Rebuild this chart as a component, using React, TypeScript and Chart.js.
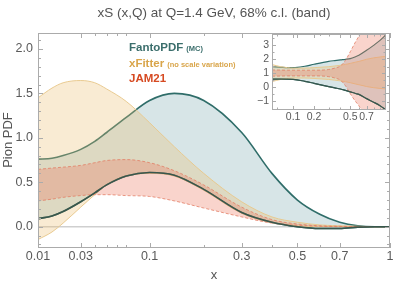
import React, { useEffect, useRef } from "react";
import { Chart, registerables } from "chart.js";
Chart.register(...registerables);

// ---------------- main panel data ----------------
const title = "xS (x,Q) at Q=1.4 GeV, 68% c.l. (band)";
const xValues = [0.01, 0.015, 0.02, 0.03, 0.04, 0.05, 0.07, 0.1, 0.14, 0.2, 0.3, 0.4, 0.5, 0.6, 0.7, 0.8, 0.9, 1.0];
const fantoUpper = [0.76, 0.77, 0.8, 0.87, 0.96, 1.06, 1.23, 1.42, 1.5, 1.42, 1.06, 0.6, 0.3, 0.14, 0.05, 0.01, 0, 0];
const fantoLower = [0.09, 0.12, 0.17, 0.28, 0.38, 0.47, 0.57, 0.61, 0.58, 0.42, 0.16, 0.05, 0.0, -0.02, -0.02, -0.005, 0, 0];
const xfitterUpper = [1.45, 1.56, 1.62, 1.645, 1.62, 1.55, 1.41, 1.17, 0.9, 0.6, 0.28, 0.11, 0.05, 0.02, 0.01, 0.005, 0, 0];
const xfitterLower = [-0.145, -0.06, 0.04, 0.22, 0.36, 0.47, 0.57, 0.6, 0.57, 0.41, 0.15, 0.045, 0.01, 0, 0, 0, 0, 0];
const jamUpper = [0.645, 0.66, 0.67, 0.69, 0.72, 0.745, 0.755, 0.72, 0.63, 0.47, 0.22, 0.08, 0.03, 0.01, 0.005, 0, 0, 0];
const jamLower = [0.29, 0.31, 0.33, 0.35, 0.36, 0.36, 0.35, 0.34, 0.29, 0.21, 0.11, 0.04, 0.015, 0.005, 0, 0, 0, 0];

const xTickValues = [0.01, 0.03, 0.1, 0.3, 0.5, 0.7, 1];
const xTickLabels = ["0.01", "0.03", "0.1", "0.3", "0.5", "0.7", "1"];
const xMinorValues = [0.04, 0.05, 0.06, 0.07, 0.2, 0.4, 0.6];
const yTickValues = [0, 0.5, 1, 1.5, 2];
const yTickLabels = ["0.0", "0.5", "1.0", "1.5", "2.0"];
const yMinorValues = [-0.2, -0.1, 0.1, 0.2, 0.3, 0.4, 0.6, 0.7, 0.8, 0.9, 1.1, 1.2, 1.3, 1.4, 1.6, 1.7, 1.8, 1.9, 2.1];

// ---------------- inset data (ratio) ----------------
const insetX = [0.04, 0.06, 0.08, 0.1, 0.15, 0.2, 0.3, 0.35, 0.4, 0.45, 0.5, 0.56, 0.6, 0.7, 0.8, 0.9, 1.0];
const insetFantoUpper = [1.45, 1.41, 1.38, 1.38, 1.48, 1.62, 1.82, 1.88, 1.93, 1.97, 2.02, 2.15, 2.25, 2.6, 2.95, 3.3, 3.7];
const insetFantoLower = [0.57, 0.57, 0.57, 0.56, 0.42, 0.28, 0.05, -0.04, -0.12, -0.22, -0.32, -0.44, -0.5, -0.8, -1.05, -1.3, -1.6];
const insetXfitterUpper = [1.6, 1.45, 1.38, 1.35, 1.35, 1.38, 1.45, 1.5, 1.55, 1.61, 1.68, 1.77, 1.82, 1.97, 2.07, 2.13, 2.18];
const insetXfitterLower = [0.4, 0.55, 0.62, 0.65, 0.65, 0.62, 0.55, 0.5, 0.45, 0.39, 0.32, 0.23, 0.18, 0.05, -0.03, -0.08, -0.12];
const insetJamUpper = [1.22, 1.21, 1.2, 1.2, 1.2, 1.2, 1.25, 1.35, 1.5, 1.9, 2.5, 3.2, 3.6, 4.6, 5.5, 6, 6.5];
const insetJamLower = [0.78, 0.79, 0.8, 0.8, 0.8, 0.8, 0.75, 0.65, 0.5, 0.1, -0.45, -1.0, -1.3, -2.2, -3, -3.5, -4];
const insetRef = [1, 1];
const insetRefX = [0.04, 1.0];

const insetXTicks = [0.1, 0.2, 0.5, 0.7];
const insetXLabels = ["0.1", "0.2", "0.5", "0.7"];
const insetXMinor = [0.05, 0.3, 0.4, 0.6, 0.8, 0.9];
const insetYTicks = [-1, 0, 1, 2, 3];
const insetYLabels = ["\u22121", "0", "1", "2", "3"];
const insetYMinor = [-1.5, -0.5, 0.5, 1.5, 2.5, 3.5];

const FONT = '"Liberation Sans", Arial, sans-serif';
const TEAL_LINE = "#2f6d69";
const TEAL_DARK = "#38574d";
const TEAL_FILL = "rgba(110,160,170,0.28)";
const ORANGE_LINE = "rgba(232,200,140,0.95)";
const ORANGE_FILL = "rgba(235,190,110,0.30)";
const RED_LINE = "rgba(225,120,95,0.75)";
const RED_FILL = "rgba(235,120,95,0.32)";

const pts = (xs: number[], ys: number[]) => xs.map((x, i) => ({ x: Math.cbrt(x), y: ys[i] }));

type Spec = {
  xMajor: number[]; xLabels: string[]; xMinor: number[];
  yMajor: number[]; yLabels: string[]; yMinor: number[];
  font: string; majorLen: number; minorLen: number;
  xLabelY: number; yLabelX: number; refY?: number;
};

const makeFramePlugin = (spec: Spec, extra?: (chart: any) => void) => ({
  id: "frameTicks",
  beforeDatasetsDraw(chart: any) {
    if (spec.refY === undefined) return;
    const { ctx, chartArea: a, scales } = chart;
    const y = scales.y.getPixelForValue(spec.refY);
    ctx.save();
    ctx.strokeStyle = "#cfcfcf";
    ctx.lineWidth = 1.6;
    ctx.beginPath();
    ctx.moveTo(a.left, y);
    ctx.lineTo(a.right, y);
    ctx.stroke();
    ctx.restore();
  },
  afterDraw(chart: any) {
    const { ctx, chartArea: a, scales } = chart;
    ctx.save();
    ctx.strokeStyle = "#ababab";
    ctx.lineWidth = 1;
    ctx.strokeRect(a.left + 0.5, a.top + 0.5, a.right - a.left - 1, a.bottom - a.top - 1);
    ctx.beginPath();
    const xt = (v: number, len: number) => {
      const px = Math.round(scales.x.getPixelForValue(Math.cbrt(v))) + 0.5;
      ctx.moveTo(px, a.bottom); ctx.lineTo(px, a.bottom - len);
      ctx.moveTo(px, a.top); ctx.lineTo(px, a.top + len);
    };
    const yt = (v: number, len: number) => {
      const py = Math.round(scales.y.getPixelForValue(v)) + 0.5;
      ctx.moveTo(a.left, py); ctx.lineTo(a.left + len, py);
      ctx.moveTo(a.right, py); ctx.lineTo(a.right - len, py);
    };
    spec.xMajor.forEach((v) => xt(v, spec.majorLen));
    spec.xMinor.forEach((v) => xt(v, spec.minorLen));
    spec.yMajor.forEach((v) => yt(v, spec.majorLen));
    spec.yMinor.forEach((v) => yt(v, spec.minorLen));
    ctx.stroke();
    ctx.fillStyle = "#5a5a5a";
    ctx.font = spec.font;
    ctx.textAlign = "center";
    ctx.textBaseline = "middle";
    spec.xMajor.forEach((v, i) => {
      if (!spec.xLabels[i]) return;
      ctx.fillText(spec.xLabels[i], scales.x.getPixelForValue(Math.cbrt(v)), spec.xLabelY);
    });
    ctx.textAlign = "right";
    spec.yMajor.forEach((v, i) => {
      ctx.fillText(spec.yLabels[i], spec.yLabelX, scales.y.getPixelForValue(v));
    });
    ctx.restore();
    if (extra) extra(chart);
  },
});

const mainExtra = (chart: any) => {
  const { ctx } = chart;
  ctx.save();
  ctx.fillStyle = "#555";
  ctx.textAlign = "center";
  ctx.textBaseline = "middle";
  ctx.font = `13.5px ${FONT}`;
  ctx.fillText(title, 214, 13);
  ctx.font = `13px ${FONT}`;
  ctx.fillText("x", 214, 275);
  ctx.save();
  ctx.translate(8, 140);
  ctx.rotate(-Math.PI / 2);
  ctx.fillText("Pion PDF", 0, 0);
  ctx.restore();
  // legend
  ctx.textAlign = "left";
  ctx.textBaseline = "alphabetic";
  const entry = (name: string, note: string, color: string, y: number) => {
    ctx.fillStyle = color;
    ctx.font = `bold 11.5px ${FONT}`;
    ctx.fillText(name, 129, y);
    const w = ctx.measureText(name).width;
    if (note) {
      ctx.font = `bold 7.5px ${FONT}`;
      ctx.fillText(note, 129 + w + 3, y);
    }
  };
  entry("FantoPDF", "(MC)", "#3b6e6c", 51);
  entry("xFitter", "(no scale variation)", "#d9a54a", 67);
  entry("JAM21", "", "#d64a22", 81.5);
  ctx.restore();
};

const bandDatasets = (
  xs: number[],
  fu: number[], fl: number[], xu: number[], xl: number[], ju: number[], jl: number[],
  lw: number
) => [
  { data: pts(xs, fl), borderColor: TEAL_DARK, borderWidth: lw, fill: false },
  { data: pts(xs, ju), borderColor: RED_LINE, borderWidth: 1, borderDash: [3, 2], fill: false },
  { data: pts(xs, jl), borderColor: RED_LINE, borderWidth: 1, borderDash: [3, 2], fill: "-1", backgroundColor: RED_FILL },
  { data: pts(xs, xu), borderColor: ORANGE_LINE, borderWidth: 1, fill: false },
  { data: pts(xs, xl), borderColor: ORANGE_LINE, borderWidth: 1, fill: "-1", backgroundColor: ORANGE_FILL },
  { data: pts(xs, fu), borderColor: TEAL_LINE, borderWidth: lw, fill: false },
  { data: pts(xs, fl), borderColor: TEAL_LINE, borderWidth: lw, fill: "-1", backgroundColor: TEAL_FILL },
];

export default function App() {
  const mainRef = useRef<HTMLCanvasElement>(null);
  const insetRef = useRef<HTMLCanvasElement>(null);

  useEffect(() => {
    const common = {
      responsive: false,
      animation: false as const,
      elements: { point: { radius: 0 }, line: { cubicInterpolationMode: "monotone" as const } },
      plugins: { legend: { display: false }, tooltip: { enabled: false }, title: { display: false } },
    };

    const main = new Chart(mainRef.current!, {
      type: "line",
      data: {
        datasets: bandDatasets(xValues, fantoUpper, fantoLower, xfitterUpper, xfitterLower, jamUpper, jamLower, 1.6) as any,
      },
      options: {
        ...common,
        layout: { padding: { left: 38, right: 5, top: 33, bottom: 36 } },
        scales: {
          x: { type: "linear", min: Math.cbrt(0.01), max: 1, display: false },
          y: { type: "linear", min: -0.24, max: 2.18, display: false },
        },
      } as any,
      plugins: [
        makeFramePlugin(
          {
            xMajor: xTickValues, xLabels: xTickLabels, xMinor: xMinorValues,
            yMajor: yTickValues, yLabels: yTickLabels, yMinor: yMinorValues,
            font: `12.5px ${FONT}`, majorLen: 5, minorLen: 3,
            xLabelY: 257, yLabelX: 33, refY: 0,
          },
          mainExtra
        ) as any,
      ],
    });

    const insetSets = bandDatasets(
      insetX, insetFantoUpper, insetFantoLower, insetXfitterUpper, insetXfitterLower, insetJamUpper, insetJamLower, 1.2
    );
    const inset = new Chart(insetRef.current!, {
      type: "line",
      data: {
        datasets: [
          { data: pts(insetRefX, insetRef), borderColor: "rgba(150,150,150,0.8)", borderWidth: 1, fill: false },
          ...insetSets,
        ] as any,
      },
      options: {
        ...common,
        layout: { padding: { left: 22, right: 6, top: 6, bottom: 16 } },
        scales: {
          x: { type: "linear", min: Math.cbrt(0.04), max: 1, display: false },
          y: { type: "linear", min: -1.6, max: 3.75, display: false },
        },
      } as any,
      plugins: [
        makeFramePlugin({
          xMajor: insetXTicks, xLabels: insetXLabels, xMinor: insetXMinor,
          yMajor: insetYTicks, yLabels: insetYLabels, yMinor: insetYMinor,
          font: `10.5px ${FONT}`, majorLen: 4, minorLen: 2.5,
          xLabelY: 89, yLabelX: 19,
        }) as any,
      ],
    });

    return () => {
      main.destroy();
      inset.destroy();
    };
  }, []);

  return (
    <div style={{ position: "fixed", left: 0, top: 0, width: 395, height: 284, background: "#fff" }}>
      <canvas ref={mainRef} width={395} height={284} style={{ position: "absolute", left: 0, top: 0 }} />
      <canvas ref={insetRef} width={142} height={98} style={{ position: "absolute", left: 250, top: 28 }} />
    </div>
  );
}
